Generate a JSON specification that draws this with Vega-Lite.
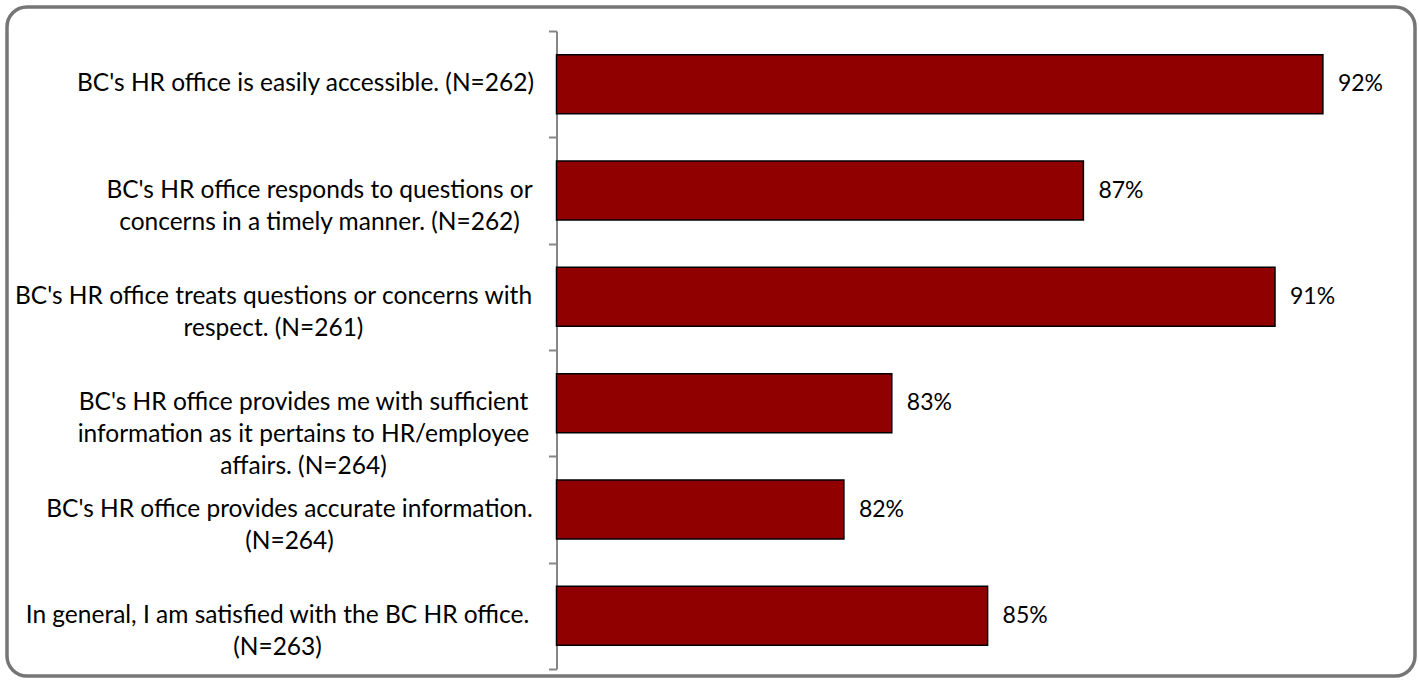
{
  "$schema": "https://vega.github.io/schema/vega-lite/v6.json",
  "width": 1408,
  "height": 669,
  "autosize": {"type": "none"},
  "padding": {"left": 7, "top": 7, "right": 4, "bottom": 6},
  "config": {
    "view": {"stroke": "#767676", "strokeWidth": 3.5, "cornerRadius": 20},
    "font": "Lato"
  },
  "data": {
    "values": [
      {"statement": "BC's HR office is easily accessible. (N=262)", "share": 0.92},
      {"statement": "BC's HR office responds to questions or\nconcerns in a timely manner. (N=262)", "share": 0.87},
      {"statement": "BC's HR office treats questions or concerns with\nrespect. (N=261)", "share": 0.91},
      {"statement": "BC's HR office provides me with sufficient\ninformation as it pertains to HR/employee\naffairs. (N=264)", "share": 0.83},
      {"statement": "BC's HR office provides accurate information.\n(N=264)", "share": 0.82},
      {"statement": "In general, I am satisfied with the BC HR office.\n(N=263)", "share": 0.85}
    ]
  },
  "encoding": {
    "y": {
      "field": "statement",
      "type": "nominal",
      "sort": null,
      "scale": {"range": [24, 662], "paddingInner": 0, "paddingOuter": 0},
      "axis": {
        "title": null,
        "offset": -549.5,
        "domainColor": "#868686",
        "domainWidth": 2,
        "tickColor": "#868686",
        "tickWidth": 2,
        "tickSize": 8,
        "tickBand": "extent",
        "labels": false
      }
    }
  },
  "layer": [
    {
      "mark": {"type": "bar", "color": "#900000", "stroke": "#000000", "strokeWidth": 1.5, "height": {"band": 0.555}},
      "encoding": {
        "x": {
          "field": "share",
          "type": "quantitative",
          "scale": {"domain": [0.76, 0.935], "range": [549.5, 1387.75], "zero": false, "nice": false},
          "axis": null
        },
        "x2": {"datum": 0.76}
      }
    },
    {
      "mark": {"type": "text", "align": "left", "baseline": "middle", "dx": 15, "fontSize": 23, "font": "Lato", "color": "#000000"},
      "encoding": {
        "x": {"field": "share", "type": "quantitative"},
        "text": {"field": "share", "type": "quantitative", "format": ".0%"}
      }
    },
    {
      "mark": {
        "type": "text",
        "align": "center",
        "baseline": "middle",
        "lineBreak": "\n",
        "lineHeight": 32,
        "fontSize": 24.5,
        "font": "Lato",
        "color": "#000000",
        "dx": {"expr": "indexof(datum.statement, 'easily') >= 0 ? -251 : indexof(datum.statement, 'timely') >= 0 ? -237 : indexof(datum.statement, 'respect') >= 0 ? -283 : indexof(datum.statement, 'sufficient') >= 0 ? -253 : indexof(datum.statement, 'accurate') >= 0 ? -267 : -279"}
      },
      "encoding": {
        "x": {"datum": 0.76},
        "text": {"field": "statement", "type": "nominal"}
      }
    }
  ]
}
